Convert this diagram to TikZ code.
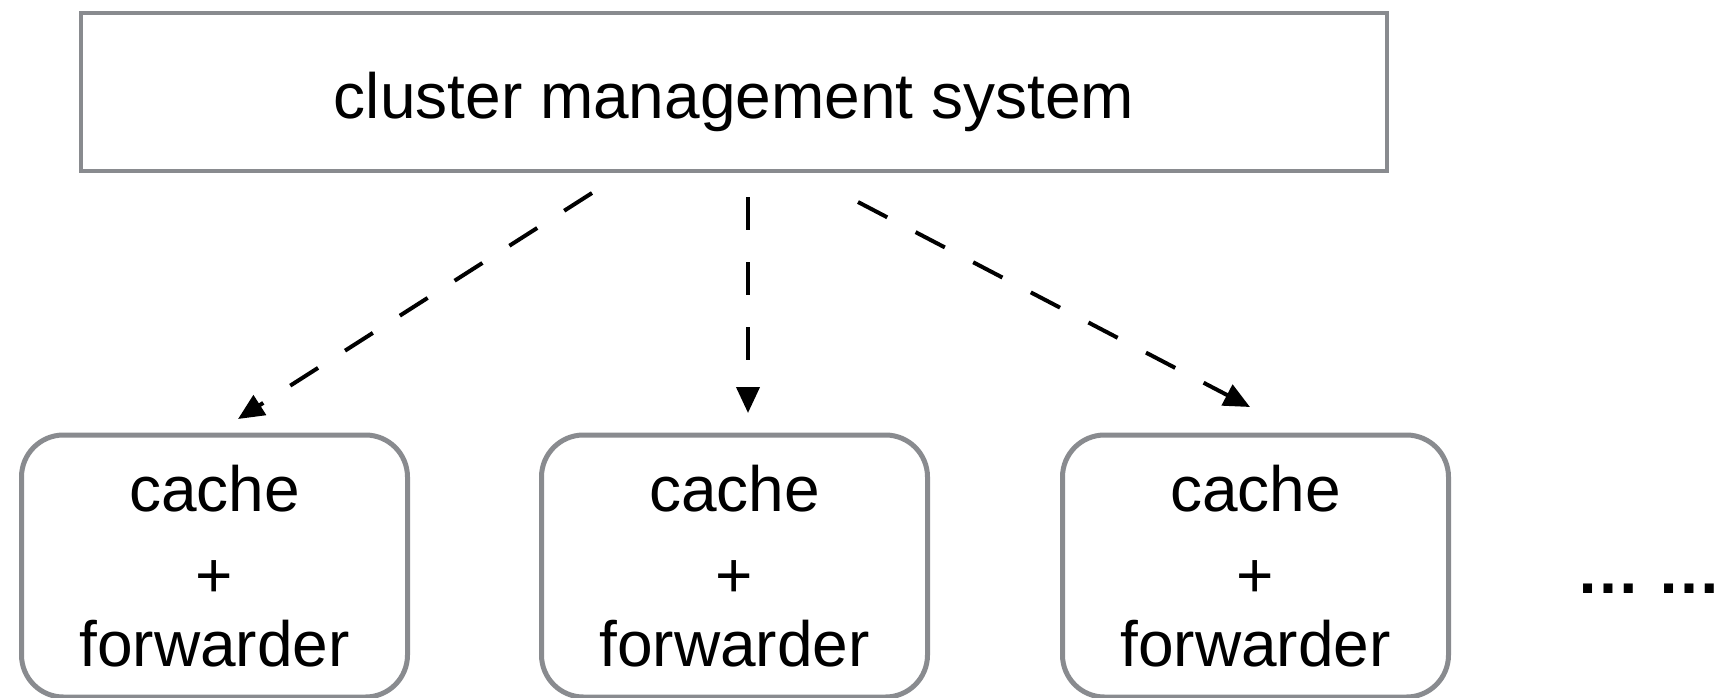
\documentclass[tikz,border=0pt]{standalone}
\usepackage{fontspec}
\setmainfont{Liberation Sans}
\usetikzlibrary{arrows.meta}
\definecolor{boxgray}{HTML}{898B8F}
\tikzset{
  mainbox/.style={draw=boxgray, line width=4.7pt, minimum width=1306pt, minimum height=158pt, inner sep=0pt, text height=60pt, text depth=8pt, font=\fontsize{64}{77.5}\selectfont},
  nodebox/.style={draw=boxgray, line width=5pt, rounded corners=42pt, minimum width=386pt, minimum height=262pt, inner sep=0pt, align=center, font=\fontsize{64}{77.5}\selectfont},
  flow/.style={line width=4pt, dash pattern=on 33pt off 32pt, -{Triangle[length=26pt,width=23pt]}},
  dotstext/.style={inner sep=0pt, font=\fontsize{64}{77.5}\selectfont\bfseries},
}
\newcommand{\plusmark}{\raisebox{-9pt}{+}}
\begin{document}
\begin{tikzpicture}[x=1pt,y=-1pt]
\useasboundingbox (0,0) rectangle (1719,697);
\node[mainbox] (cms) at (734,92) {cluster management system};
\node[nodebox] (c1) at (214.5,566) {cache\\\plusmark\\forwarder};
\node[nodebox] (c2) at (734.5,566) {cache\\\plusmark\\forwarder};
\node[nodebox] (c3) at (1255.5,566) {cache\\\plusmark\\forwarder};
\node[dotstext, anchor=base] (dots) at (1649,593) {… …};
\coordinate (s1) at (592,193);
\coordinate (t1) at (238,419);
\coordinate (s2) at (748,197);
\coordinate (t2) at (748,413);
\coordinate (s3) at (858,202);
\coordinate (t3) at (1250,407);
\draw[flow] (s1) -- (t1);
\draw[flow] (s2) -- (t2);
\draw[flow] (s3) -- (t3);
\end{tikzpicture}
\end{document}
